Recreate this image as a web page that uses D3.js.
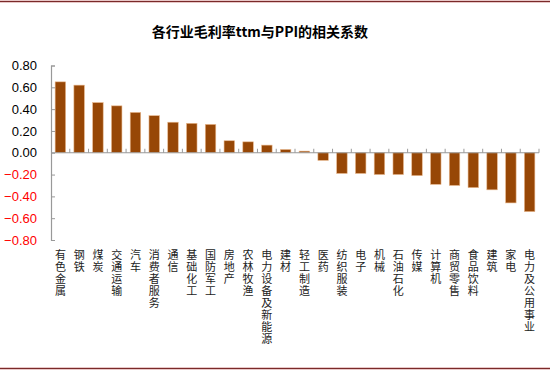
<!DOCTYPE html>
<html><head><meta charset="utf-8">
<script src="https://cdn.jsdelivr.net/npm/d3@7"></script>
<style>
html,body{margin:0;padding:0;background:#fff;}
svg{display:block;}
</style></head>
<body>
<svg id="chart" width="550" height="371"></svg>
<script>
const title = "各行业毛利率ttm与PPI的相关系数";
const categories = ["有色金属","钢铁","煤炭","交通运输","汽车","消费者服务","通信","基础化工","国防军工","房地产","农林牧渔","电力设备及新能源","建材","轻工制造","医药","纺织服装","电子","机械","石油石化","传媒","计算机","商贸零售","食品饮料","建筑","家电","电力及公用事业"];
const values = [0.65,0.62,0.46,0.43,0.37,0.34,0.28,0.27,0.26,0.11,0.10,0.07,0.03,0.015,-0.07,-0.19,-0.19,-0.20,-0.20,-0.21,-0.29,-0.30,-0.32,-0.34,-0.46,-0.54];
const yTicks = [0.8,0.6,0.4,0.2,0,-0.2,-0.4,-0.6,-0.8];

const svg = d3.select("#chart");
const W = 550, H = 371;
const m = {left:51, right:11, top:65.5, bottom:131};

// border lines
[1.5, 368.5].forEach(y=>{
  svg.append("line").attr("x1",0).attr("x2",W).attr("y1",y).attr("y2",y)
    .attr("stroke","#e8c8c8").attr("stroke-width",3);
  svg.append("line").attr("x1",0).attr("x2",W).attr("y1",y).attr("y2",y)
    .attr("stroke","#7a2a2a").attr("stroke-width",1.2);
});

svg.append("text").attr("x",260).attr("y",37).attr("text-anchor","middle")
  .attr("font-family","'Noto Sans CJK SC', sans-serif").attr("font-weight","bold")
  .attr("font-size",14).attr("fill","#000").text(title);

const x = d3.scaleBand().domain(categories).range([m.left, W-m.right]).paddingInner(0.44).paddingOuter(0.22);
const y = d3.scaleLinear().domain([-0.8,0.8]).range([H-m.bottom, m.top]);

// bars
svg.append("g").selectAll("rect").data(values).join("rect")
  .attr("x",(d,i)=>x(categories[i]))
  .attr("width",x.bandwidth())
  .attr("y",d=>y(Math.max(0,d)))
  .attr("height",d=>Math.abs(y(d)-y(0)))
  .attr("fill","#974706").attr("stroke","#e9b98f").attr("stroke-width",0.6);

// y axis
const yAxis = d3.axisRight(y).tickValues(yTicks).tickSize(4).tickFormat(d3.format(".2f"));
const gy = svg.append("g").attr("transform",`translate(${m.left},0)`).call(yAxis);
gy.select(".domain").attr("stroke","#999").attr("stroke-width",1.2);
gy.selectAll(".tick line").attr("stroke","#999");
gy.selectAll(".tick text").attr("x",-14).attr("text-anchor","end")
  .attr("font-family","Arial, 'Liberation Sans', sans-serif").attr("font-size",13)
  .attr("fill",d=>d<0?"#ff0000":"#000");

// x axis at zero with ticks at band boundaries
const x0 = m.left, x1 = W-m.right;
svg.append("line").attr("x1",x0).attr("x2",x1).attr("y1",y(0)).attr("y2",y(0))
  .attr("stroke","#999").attr("stroke-width",1.2);
const bounds = d3.range(1, categories.length+1).map(i=>x0 + (x1-x0)*i/categories.length);
svg.append("g").selectAll("line").data(bounds).join("line")
  .attr("x1",d=>d).attr("x2",d=>d).attr("y1",y(0)).attr("y2",y(0)-4)
  .attr("stroke","#999");

// category labels (vertical)
svg.append("g").selectAll("text").data(categories).join("text")
  .attr("x",d=>x(d)+x.bandwidth()/2)
  .attr("y",249)
  .style("writing-mode","vertical-rl")
  .style("text-orientation","upright")
  .attr("font-family","'Noto Sans CJK SC', sans-serif")
  .attr("font-size",11).attr("letter-spacing",1).attr("fill","#222")
  .text(d=>d);
</script>
</body></html>
